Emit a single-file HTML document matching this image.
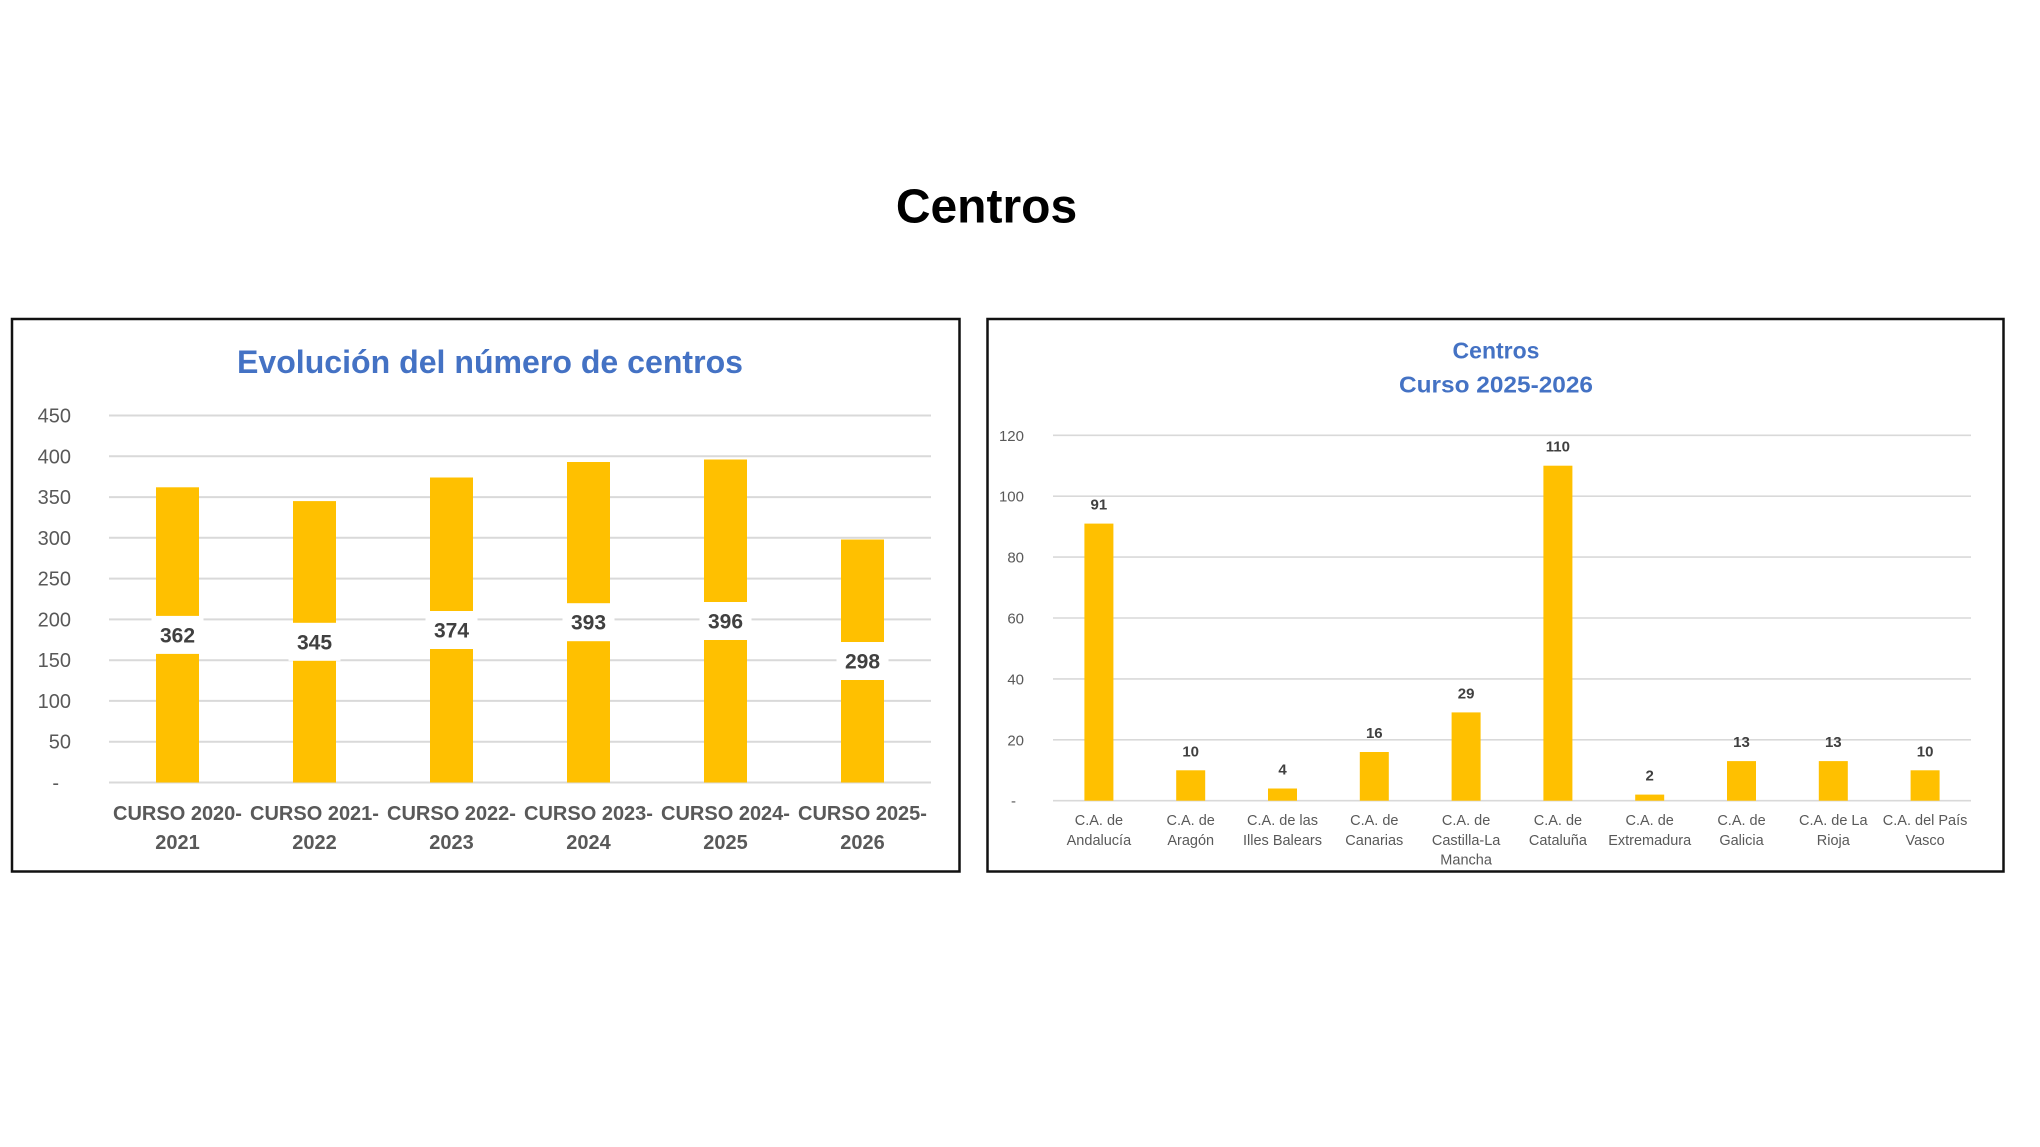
<!DOCTYPE html>
<html>
<head>
<meta charset="utf-8">
<style>
html,body{margin:0;padding:0;background:#fff;}
svg{display:block;}
</style>
</head>
<body>
<svg width="2040" height="1147" viewBox="0 0 2040 1147" xmlns="http://www.w3.org/2000/svg">
<rect width="2040" height="1147" fill="#fff"/>
<text x="986.5" y="222.7" font-family="Liberation Sans, sans-serif" font-weight="bold" font-size="48" text-anchor="middle" fill="#000">Centros</text>

<!-- LEFT CHART -->
<rect x="12" y="319" width="947.5" height="552.5" fill="#fff" stroke="#111" stroke-width="2.5"/>
<text x="237" y="373" font-family="Liberation Sans, sans-serif" font-weight="bold" font-size="32" fill="#4472C4" textLength="506" lengthAdjust="spacingAndGlyphs">Evolución del número de centros</text>

<g stroke="#d9d9d9" stroke-width="2">
<line x1="109" x2="931" y1="415.5" y2="415.5"/>
<line x1="109" x2="931" y1="456.3" y2="456.3"/>
<line x1="109" x2="931" y1="497.1" y2="497.1"/>
<line x1="109" x2="931" y1="537.8" y2="537.8"/>
<line x1="109" x2="931" y1="578.6" y2="578.6"/>
<line x1="109" x2="931" y1="619.4" y2="619.4"/>
<line x1="109" x2="931" y1="660.2" y2="660.2"/>
<line x1="109" x2="931" y1="700.9" y2="700.9"/>
<line x1="109" x2="931" y1="741.7" y2="741.7"/>
<line x1="109" x2="931" y1="782.5" y2="782.5"/>
</g>
<g font-family="Liberation Sans, sans-serif" font-size="20" fill="#595959" text-anchor="end">
<text x="71" y="422.5">450</text>
<text x="71" y="463.3">400</text>
<text x="71" y="504.1">350</text>
<text x="71" y="544.8">300</text>
<text x="71" y="585.6">250</text>
<text x="71" y="626.4">200</text>
<text x="71" y="667.2">150</text>
<text x="71" y="707.9">100</text>
<text x="71" y="748.7">50</text>
<text x="59" y="789.5">-</text>
</g>
<g fill="#FFC000">
<rect x="156" y="487.3" width="43" height="295.2"/>
<rect x="293" y="501.1" width="43" height="281.4"/>
<rect x="430" y="477.5" width="43" height="305"/>
<rect x="567" y="462" width="43" height="320.5"/>
<rect x="704" y="459.5" width="43" height="323"/>
<rect x="841" y="539.5" width="43" height="243"/>
</g>
<g fill="#fff">
<rect x="151.5" y="615.9" width="52" height="38"/>
<rect x="288.5" y="622.8" width="52" height="38"/>
<rect x="425.5" y="611" width="52" height="38"/>
<rect x="562.5" y="603.2" width="52" height="38"/>
<rect x="699.5" y="602" width="52" height="38"/>
<rect x="836.5" y="642" width="52" height="38"/>
</g>
<g font-family="Liberation Sans, sans-serif" font-weight="bold" font-size="21" fill="#404040" text-anchor="middle">
<text x="177.5" y="642.4">362</text>
<text x="314.5" y="649.3">345</text>
<text x="451.5" y="637.5">374</text>
<text x="588.5" y="629.7">393</text>
<text x="725.5" y="628.5">396</text>
<text x="862.5" y="668.5">298</text>
</g>
<g font-family="Liberation Sans, sans-serif" font-weight="bold" font-size="20" fill="#595959" text-anchor="middle">
<text x="177.5" y="820">CURSO 2020-</text><text x="177.5" y="849">2021</text>
<text x="314.5" y="820">CURSO 2021-</text><text x="314.5" y="849">2022</text>
<text x="451.5" y="820">CURSO 2022-</text><text x="451.5" y="849">2023</text>
<text x="588.5" y="820">CURSO 2023-</text><text x="588.5" y="849">2024</text>
<text x="725.5" y="820">CURSO 2024-</text><text x="725.5" y="849">2025</text>
<text x="862.5" y="820">CURSO 2025-</text><text x="862.5" y="849">2026</text>
</g>

<!-- RIGHT CHART -->
<rect x="987.5" y="319" width="1016" height="552.5" fill="#fff" stroke="#111" stroke-width="2.5"/>
<g font-family="Liberation Sans, sans-serif" font-weight="bold" font-size="23" fill="#4472C4" text-anchor="middle">
<text x="1496" y="358.3">Centros</text>
<text x="1496" y="392.7" textLength="194" lengthAdjust="spacingAndGlyphs">Curso 2025-2026</text>
</g>
<g stroke="#d9d9d9" stroke-width="1.6">
<line x1="1053" x2="1971" y1="435.3" y2="435.3"/>
<line x1="1053" x2="1971" y1="496.2" y2="496.2"/>
<line x1="1053" x2="1971" y1="557.1" y2="557.1"/>
<line x1="1053" x2="1971" y1="618" y2="618"/>
<line x1="1053" x2="1971" y1="678.9" y2="678.9"/>
<line x1="1053" x2="1971" y1="739.8" y2="739.8"/>
<line x1="1053" x2="1971" y1="800.7" y2="800.7"/>
</g>
<g font-family="Liberation Sans, sans-serif" font-size="15" fill="#595959" text-anchor="end">
<text x="1024" y="440.8">120</text>
<text x="1024" y="501.7">100</text>
<text x="1024" y="562.6">80</text>
<text x="1024" y="623.5">60</text>
<text x="1024" y="684.4">40</text>
<text x="1024" y="745.3">20</text>
<text x="1016" y="806.2">-</text>
</g>
<g fill="#FFC000">
<rect x="1084.4" y="523.6" width="29" height="277.1"/>
<rect x="1176.2" y="770.3" width="29" height="30.4"/>
<rect x="1268" y="788.5" width="29" height="12.2"/>
<rect x="1359.8" y="752" width="29" height="48.7"/>
<rect x="1451.6" y="712.4" width="29" height="88.3"/>
<rect x="1543.4" y="465.7" width="29" height="335"/>
<rect x="1635.2" y="794.6" width="29" height="6.1"/>
<rect x="1727" y="761.1" width="29" height="39.6"/>
<rect x="1818.8" y="761.1" width="29" height="39.6"/>
<rect x="1910.6" y="770.3" width="29" height="30.4"/>
</g>
<g font-family="Liberation Sans, sans-serif" font-weight="bold" font-size="15" fill="#404040" text-anchor="middle">
<text x="1098.9" y="509.6">91</text>
<text x="1190.7" y="756.3">10</text>
<text x="1282.5" y="774.5">4</text>
<text x="1374.3" y="738">16</text>
<text x="1466.1" y="698.4">29</text>
<text x="1557.9" y="451.7">110</text>
<text x="1649.7" y="780.6">2</text>
<text x="1741.5" y="747.1">13</text>
<text x="1833.3" y="747.1">13</text>
<text x="1925.1" y="756.3">10</text>
</g>
<g font-family="Liberation Sans, sans-serif" font-size="14.5" fill="#595959" text-anchor="middle">
<text x="1098.9" y="825">C.A. de</text><text x="1098.9" y="845">Andalucía</text>
<text x="1190.7" y="825">C.A. de</text><text x="1190.7" y="845">Aragón</text>
<text x="1282.5" y="825">C.A. de las</text><text x="1282.5" y="845">Illes Balears</text>
<text x="1374.3" y="825">C.A. de</text><text x="1374.3" y="845">Canarias</text>
<text x="1466.1" y="825">C.A. de</text><text x="1466.1" y="845">Castilla-La</text><text x="1466.1" y="864.5">Mancha</text>
<text x="1557.9" y="825">C.A. de</text><text x="1557.9" y="845">Cataluña</text>
<text x="1649.7" y="825">C.A. de</text><text x="1649.7" y="845">Extremadura</text>
<text x="1741.5" y="825">C.A. de</text><text x="1741.5" y="845">Galicia</text>
<text x="1833.3" y="825">C.A. de La</text><text x="1833.3" y="845">Rioja</text>
<text x="1925.1" y="825">C.A. del País</text><text x="1925.1" y="845">Vasco</text>
</g>
</svg>
</body>
</html>
